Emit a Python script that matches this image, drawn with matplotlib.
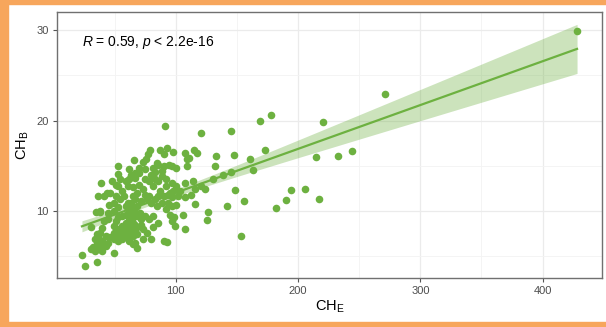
import numpy as np
import matplotlib
matplotlib.use("Agg")
import matplotlib.pyplot as plt
from matplotlib.patches import Rectangle

# CH_E (x) and CH_B (y)
ch_e = [
    428.2, 270.7, 178.0, 169.0, 220.5, 145.0, 120.5, 91.5, 243.9, 232.5,
    214.8, 173.0, 160.4, 147.7, 132.6, 163.0, 132.2, 145.0, 138.6, 130.4,
    148.7, 193.9, 205.6, 190.4, 217.0, 156.0, 141.7, 181.9, 126.0, 125.6,
    153.4, 107.9, 106.0, 99.4, 92.4, 90.5, 66.8, 68.2, 49.1, 23.2,
    25.4, 35.2, 30.8, 40.0, 36.5, 39.0, 47.8, 52.6, 65.5, 52.6,
    34.9, 37.7,
    78.8, 76.9, 75.7, 73.1, 84.2, 87.4, 93.0, 97.5, 90.5, 94.6,
    100.0, 88.9, 107.3, 110.9, 117.4, 115.2, 109.2, 108.9, 82.6, 79.4,
    70.0, 66.8, 63.6, 62.0, 66.8, 74.7, 77.9, 82.6, 85.8, 88.9,
    60.5, 65.2, 70.0, 73.1, 81.0, 87.4, 92.1, 95.3, 96.8, 101.6,
    107.9, 114.2, 115.8, 120.5, 123.7, 107.9, 112.6, 115.8, 44.0, 46.2,
    49.4, 45.3, 54.2, 57.3, 55.7, 51.0, 58.9, 54.2, 58.9, 63.6,
    66.8, 68.4, 71.5, 76.3, 79.4, 84.2, 88.9, 93.7, 92.1, 96.8,
    100.0, 95.3, 98.4, 96.8, 81.0, 77.9, 74.7, 71.5, 68.4, 65.2,
    62.0, 58.9, 55.7, 52.6, 51.0, 49.4, 52.6, 55.7, 58.9, 62.0,
    65.2, 68.4, 71.5, 73.1, 58.9, 55.7, 52.6, 49.4, 58.9, 62.0,
    65.2, 55.7, 52.6, 62.0, 49.4, 46.2, 43.0, 44.6, 39.9, 36.8,
    33.6, 35.2, 32.0, 36.8, 39.9, 43.0, 33.6, 30.4, 65.2, 60.5,
    65.2, 68.4, 74.7, 77.9, 82.6, 85.8, 90.5, 93.7, 97.8, 92.1,
    96.8, 100.0, 103.2, 70.0, 74.7, 81.0, 85.8, 90.5, 96.8, 62.0,
    52.6, 51.0, 41.5, 38.3, 44.6, 49.4, 52.6, 41.5, 44.6, 38.3,
    35.2, 40.0, 76.3, 81.0, 85.8, 79.4, 73.1, 68.4,
    60.0, 63.0, 66.0, 61.5, 64.5, 67.5, 62.5, 65.8, 59.5, 63.8,
    67.0, 70.5, 57.5, 61.0,
]
ch_b = [
    29.9, 23.0, 20.6, 20.0, 19.8, 18.9, 18.6, 19.4, 16.6, 16.05,
    16.0, 16.7, 15.8, 16.2, 16.1, 14.5, 15.0, 14.3, 14.0, 13.5,
    12.3, 12.3, 12.4, 11.2, 11.3, 11.1, 10.6, 10.3, 9.9, 9.0,
    7.25, 8.0, 9.6, 8.35, 6.6, 6.7, 6.5, 5.85, 5.35, 5.1,
    3.95, 4.3, 8.2, 8.1, 11.65, 13.1, 13.3, 15.0, 15.6, 14.1,
    9.9, 9.9,
    16.8, 16.3, 15.8, 15.4, 15.3, 16.8, 17.0, 16.5, 16.3, 15.1,
    14.8, 14.4, 16.4, 15.9, 16.4, 16.7, 15.0, 15.7, 14.3, 14.0,
    14.2, 14.2, 14.0, 13.5, 13.6, 13.5, 13.3, 13.5, 13.3, 13.85,
    12.75, 12.6, 12.9, 12.4, 12.75, 12.2, 12.75, 12.0, 11.5, 11.65,
    13.1, 13.3, 12.4, 12.75, 12.4, 11.5, 11.8, 10.8, 12.0, 12.0,
    10.9, 10.7, 11.3, 11.65, 12.2, 12.9, 13.3, 13.5, 10.55, 10.9,
    11.3, 10.55, 11.1, 11.3, 10.9, 10.55, 10.9, 10.9, 10.2, 10.55,
    10.7, 9.6, 9.3, 8.9, 9.45, 9.1, 9.45, 9.1, 9.45, 9.8,
    10.0, 9.6, 9.45, 9.3, 8.9, 8.35, 8.0, 8.35, 8.7, 8.9,
    8.5, 8.2, 8.5, 8.0, 8.0, 7.6, 7.4, 7.6, 7.25, 7.6,
    7.25, 6.9, 6.7, 6.7, 6.9, 7.1, 7.25, 6.5, 6.7, 6.9,
    6.9, 6.3, 6.0, 5.8, 6.0, 6.15, 5.6, 5.8, 6.3, 10.9,
    11.65, 12.0, 11.8, 11.65, 11.3, 11.65, 11.65, 11.8, 12.2, 13.5,
    13.1, 12.75, 12.2, 14.75, 14.6, 14.75, 15.1, 14.95, 14.95, 14.6,
    12.75, 11.65, 11.65, 10.0, 9.8, 10.0, 10.4, 8.9, 9.1, 7.6,
    7.4, 5.6, 7.6, 8.2, 8.7, 6.9, 6.9, 7.4,
    8.0, 8.3, 8.6, 9.2, 9.0, 9.8, 10.3, 10.2, 8.6, 7.9,
    7.8, 9.8, 8.3, 7.0,
]

x_ticks = [100, 200, 300, 400]
y_ticks = [10, 20, 30]
cor_label = r"$\it{R}$ = 0.59, $\it{p}$ < 2.2e-16"

green = "#6DB140"
orange = "#F7A65C"

plt.rcParams["font.family"] = ["Liberation Sans", "DejaVu Sans"]
plt.rcParams["mathtext.fontset"] = "custom"
plt.rcParams["mathtext.rm"] = "Liberation Sans"
plt.rcParams["mathtext.it"] = "Liberation Sans:italic"

x = np.array(ch_e)
y = np.array(ch_b)

# linear fit with 95% confidence band (like geom_smooth(method = "lm"))
n = len(x)
b1, b0 = np.polyfit(x, y, 1)
resid = y - (b0 + b1 * x)
s = np.sqrt(np.sum(resid ** 2) / (n - 2))
sxx = np.sum((x - x.mean()) ** 2)
xs = np.linspace(x.min(), x.max(), 80)
fit = b0 + b1 * xs
se = s * np.sqrt(1 / n + (xs - x.mean()) ** 2 / sxx)
lo = fit - 1.97 * se
hi = fit + 1.97 * se

fig = plt.figure(figsize=(6.06, 3.27), dpi=100)
# orange frame strips
fig.patches.append(Rectangle((0, 0), 8 / 606, 1, transform=fig.transFigure, color=orange, zorder=0))
fig.patches.append(Rectangle((0, 1 - 4 / 327), 1, 4 / 327, transform=fig.transFigure, color=orange, zorder=0))
fig.patches.append(Rectangle((0, 0), 1, 5 / 327, transform=fig.transFigure, color=orange, zorder=0))

ax = fig.add_axes([57.2 / 606, 1 - 277.7 / 327, (601.8 - 57.2) / 606, (277.7 - 12.3) / 327])

ax.fill_between(xs, lo, hi, color=green, alpha=0.35, lw=0, zorder=2)
ax.scatter(x, y, s=30, color=green, lw=0, zorder=3)
ax.plot(xs, fit, color=green, lw=1.6, zorder=4)

# ggplot-like expansion
xr = x.max() - x.min()
ax.set_xlim(x.min() - 0.05 * xr, x.max() + 0.05 * xr)
ymin = min(y.min(), lo.min())
ymax = max(y.max(), hi.max())
yr = ymax - ymin
ax.set_ylim(ymin - 0.05 * yr, ymax + 0.05 * yr)

ax.set_xticks(x_ticks)
ax.set_yticks(y_ticks)
ax.set_xticks([50, 150, 250, 350], minor=True)
ax.set_yticks([5, 15, 25], minor=True)
ax.grid(True, which="major", color="#EBEBEB", lw=0.9, zorder=0)
ax.grid(True, which="minor", color="#F3F3F3", lw=0.6, zorder=0)
ax.set_axisbelow(True)
ax.tick_params(which="minor", length=0)
ax.tick_params(which="major", length=3, width=0.8, color="#555555",
               labelsize=8, labelcolor="#4D4D4D", pad=3)
for sp in ax.spines.values():
    sp.set_color("#707070")
    sp.set_linewidth(1.0)

ax.set_xlabel(r"CH$_\mathrm{E}$", fontsize=10.5, color="black", labelpad=2)
ax.set_ylabel(r"CH$_\mathrm{B}$", fontsize=10.5, color="black", labelpad=4)

ax.text(x.min(), 28.6, cor_label, fontsize=10, va="center", ha="left")

fig.savefig("out.png", dpi=100)
